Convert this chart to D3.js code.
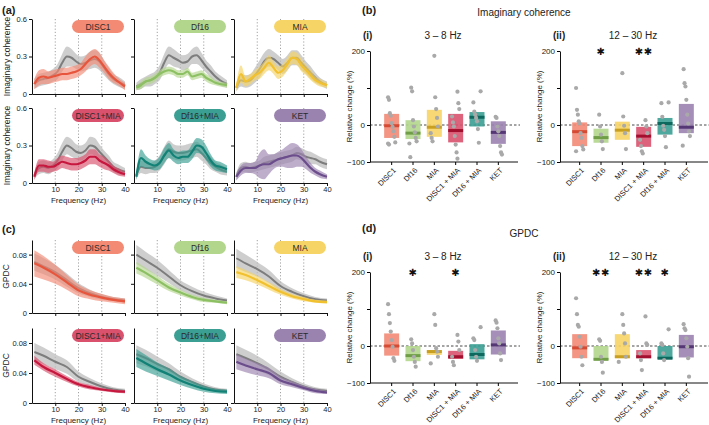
<!DOCTYPE html>
<html><head><meta charset="utf-8">
<script src="https://cdn.jsdelivr.net/npm/d3@7"></script>
<style>body{margin:0;background:#fff} svg{font-family:"Liberation Sans",Arial,sans-serif}</style>
</head><body><svg id="c" width="709" height="425"></svg>
<script>
// ---------- DATA ----------
const groups = ["DISC1","Df16","MIA","DISC1+MIA","Df16+MIA","KET"];
const catLabels = ["DISC1","Df16","MIA","DISC1 + MIA","Df16 + MIA","KET"];
const freqTicks = [10,20,30,40];

const cohFreq = [1,3,5,7,9,11,13,15,17,19,21,23,25,27,29,31,33,35,37,40];
const cohCtrlMean = [
 [0.08,0.11,0.12,0.13,0.15,0.18,0.25,0.30,0.29,0.26,0.24,0.25,0.27,0.28,0.26,0.21,0.16,0.12,0.10,0.07],
 [0.06,0.08,0.10,0.11,0.13,0.17,0.25,0.31,0.29,0.27,0.25,0.26,0.30,0.31,0.27,0.22,0.18,0.14,0.11,0.08],
 [0.05,0.11,0.10,0.11,0.15,0.20,0.26,0.29,0.28,0.25,0.22,0.25,0.29,0.29,0.25,0.21,0.17,0.13,0.10,0.07],
 [0.06,0.12,0.13,0.12,0.14,0.18,0.25,0.30,0.28,0.25,0.24,0.26,0.30,0.29,0.25,0.21,0.17,0.13,0.11,0.09],
 [0.06,0.13,0.12,0.12,0.13,0.16,0.22,0.27,0.25,0.24,0.24,0.25,0.26,0.27,0.24,0.20,0.16,0.13,0.11,0.09],
 [0.05,0.12,0.13,0.12,0.13,0.14,0.16,0.17,0.18,0.19,0.20,0.21,0.22,0.24,0.23,0.21,0.20,0.19,0.17,0.15]];
const cohCtrlSem = [
 [0.04,0.05,0.05,0.05,0.05,0.06,0.07,0.08,0.07,0.06,0.06,0.06,0.07,0.07,0.07,0.06,0.05,0.04,0.04,0.03],
 [0.03,0.04,0.04,0.05,0.05,0.06,0.07,0.07,0.07,0.06,0.06,0.06,0.06,0.07,0.06,0.05,0.05,0.04,0.04,0.03],
 [0.03,0.05,0.05,0.05,0.06,0.07,0.07,0.07,0.06,0.06,0.06,0.06,0.06,0.06,0.06,0.05,0.05,0.04,0.03,0.03],
 [0.03,0.05,0.05,0.05,0.05,0.06,0.07,0.07,0.07,0.06,0.06,0.06,0.07,0.07,0.06,0.05,0.05,0.04,0.04,0.03],
 [0.03,0.05,0.05,0.04,0.05,0.06,0.07,0.07,0.06,0.06,0.06,0.06,0.06,0.06,0.06,0.05,0.05,0.04,0.04,0.03],
 [0.03,0.04,0.04,0.04,0.04,0.04,0.05,0.05,0.05,0.05,0.05,0.05,0.05,0.05,0.05,0.05,0.05,0.04,0.04,0.04]];
const cohGrpMean = [
 [0.08,0.13,0.14,0.13,0.14,0.15,0.16,0.16,0.17,0.18,0.20,0.24,0.28,0.30,0.27,0.22,0.17,0.13,0.10,0.06],
 [0.05,0.07,0.10,0.11,0.13,0.16,0.18,0.19,0.18,0.16,0.16,0.18,0.14,0.15,0.16,0.13,0.11,0.09,0.08,0.07],
 [0.05,0.16,0.10,0.12,0.15,0.17,0.21,0.25,0.21,0.17,0.19,0.24,0.29,0.28,0.23,0.19,0.15,0.11,0.09,0.07],
 [0.05,0.14,0.14,0.13,0.13,0.15,0.17,0.16,0.15,0.15,0.16,0.18,0.21,0.21,0.18,0.16,0.14,0.11,0.09,0.07],
 [0.05,0.20,0.17,0.15,0.14,0.16,0.22,0.26,0.22,0.20,0.21,0.21,0.25,0.30,0.29,0.24,0.18,0.14,0.13,0.11],
 [0.05,0.10,0.12,0.12,0.12,0.14,0.15,0.15,0.17,0.19,0.20,0.21,0.22,0.22,0.20,0.16,0.12,0.09,0.07,0.05]];
const cohGrpSem = [
 [0.04,0.06,0.06,0.05,0.05,0.05,0.05,0.05,0.05,0.05,0.05,0.06,0.06,0.06,0.06,0.05,0.05,0.04,0.03,0.03],
 [0.02,0.03,0.03,0.03,0.03,0.03,0.03,0.03,0.03,0.03,0.03,0.03,0.03,0.03,0.03,0.03,0.03,0.02,0.02,0.02],
 [0.03,0.07,0.04,0.04,0.04,0.05,0.05,0.06,0.05,0.05,0.05,0.05,0.05,0.05,0.05,0.04,0.04,0.03,0.03,0.02],
 [0.03,0.05,0.05,0.05,0.04,0.05,0.05,0.05,0.05,0.05,0.05,0.05,0.06,0.06,0.05,0.05,0.04,0.03,0.03,0.02],
 [0.03,0.07,0.05,0.04,0.04,0.05,0.06,0.06,0.05,0.05,0.05,0.05,0.06,0.06,0.06,0.06,0.05,0.04,0.04,0.03],
 [0.03,0.04,0.04,0.04,0.05,0.10,0.12,0.08,0.06,0.06,0.07,0.09,0.10,0.09,0.07,0.05,0.04,0.03,0.03,0.02]];

const gpdcFreq = [1,5,10,15,20,25,30,35,40];
const gpdcCtrlMean = [
 [0.070,0.064,0.056,0.045,0.034,0.027,0.022,0.019,0.017],
 [0.080,0.072,0.062,0.050,0.038,0.030,0.024,0.020,0.017],
 [0.075,0.068,0.060,0.050,0.037,0.029,0.023,0.019,0.017],
 [0.068,0.063,0.055,0.048,0.035,0.028,0.022,0.018,0.016],
 [0.065,0.060,0.052,0.045,0.035,0.028,0.022,0.018,0.016],
 [0.065,0.060,0.053,0.045,0.035,0.028,0.022,0.018,0.016]];
const gpdcCtrlSem = [
 [0.012,0.011,0.010,0.009,0.007,0.005,0.004,0.003,0.003],
 [0.013,0.012,0.011,0.009,0.007,0.006,0.005,0.004,0.003],
 [0.013,0.012,0.010,0.009,0.007,0.005,0.004,0.003,0.003],
 [0.012,0.011,0.010,0.009,0.007,0.005,0.004,0.003,0.003],
 [0.012,0.011,0.010,0.008,0.007,0.005,0.004,0.003,0.003],
 [0.012,0.011,0.010,0.008,0.007,0.005,0.004,0.003,0.003]];
const gpdcGrpMean = [
 [0.068,0.062,0.053,0.042,0.031,0.025,0.021,0.018,0.016],
 [0.062,0.055,0.045,0.035,0.028,0.022,0.018,0.016,0.014],
 [0.056,0.052,0.045,0.037,0.029,0.023,0.019,0.016,0.015],
 [0.057,0.048,0.040,0.032,0.025,0.021,0.018,0.016,0.015],
 [0.060,0.053,0.045,0.038,0.030,0.024,0.019,0.016,0.015],
 [0.055,0.050,0.045,0.040,0.030,0.025,0.020,0.016,0.014]];
const gpdcGrpSem = [
 [0.018,0.016,0.013,0.010,0.008,0.006,0.005,0.004,0.004],
 [0.008,0.007,0.006,0.005,0.004,0.003,0.003,0.002,0.002],
 [0.008,0.007,0.006,0.005,0.004,0.003,0.003,0.002,0.002],
 [0.006,0.005,0.005,0.004,0.003,0.003,0.002,0.002,0.002],
 [0.012,0.011,0.009,0.008,0.006,0.005,0.004,0.003,0.003],
 [0.010,0.009,0.008,0.007,0.005,0.004,0.003,0.003,0.002]];

// Relative change (%) per group
const icLowMean = [-2,-22,-6,-15,21,-20];
const icLowBoxTop = [30,13,41,30,35,10];
const icLowBoxBot = [-35,-38,-32,-47,-4,-51];
const icLowPoints = [[75,68,32,25,5,-5,-17,-32,-47,-50,-53],[101,91,13,-4,-20,-35,-44,-50,-87],[187,75,43,19,-4,-22,-35,-44],[90,59,43,23,7,-4,-30,-53,-74,-91],[91,61,36,28,19,10,-11,-48],[22,19,-4,-17,-30,-57,-74,-80]];
const icLowStars = ["","","","","",""];

const icHighMean = [-18,-34,-14,-30,4,-6];
const icHighBoxTop = [7,-10,9,-5,19,57];
const icHighBoxBot = [-57,-48,-40,-59,-26,-22];
const icHighPoints = [[100,41,28,10,4,-22,-35,-57,-66,-71],[28,-4,-26,-44,-65],[140,23,-2,-22,-65],[13,-4,-22,-40,-57,-71,-77],[61,59,22,-2,-13,-30,-60],[151,113,104,68,28,4,-17,-30,-56]];
const icHighStars = ["","*","","**","",""];

const gpLowMean = [0,-26,-15,-29,-23,3];
const gpLowBoxTop = [34,0,-11,-13,5,42];
const gpLowBoxBot = [-26,-41,-24,-35,-36,-23];
const gpLowPoints = [[113,86,62,39,16,-2,-33,-40],[18,7,-11,-29,-43,-56],[86,57,-6,-15,-29,-47],[30,12,-11,-29,-43,-52],[51,21,16,-11,-29,-40],[69,63,48,21,7,-20,-38]];
const gpLowStars = ["","*","","*","",""];

const gpHighMean = [-5,-36,-29,-29,-33,-2];
const gpHighBoxTop = [32,0,32,-11,0,30];
const gpHighBoxBot = [-33,-38,-33,-33,-35,-31];
const gpHighPoints = [[129,86,57,52,25,-2,-29,-52],[18,14,-29,-43,-72],[86,57,34,7,-29,-43],[80,7,3,-20,-38,-65],[45,7,3,-20,-38],[59,48,43,21,-2,-33,-83]];
const gpHighStars = ["","**","","**","*",""];

// ---------- STYLE ----------
const lineColor = ["#e8553d","#8cc063","#f2c12f","#c7173e","#128277","#6b4d8c"];
const fillColor = ["#f28a74","#b3d68d","#f6d466","#d9516d","#3b9f94","#9b83b0"];
const medColor  = ["#d64a33","#6f9e46","#c99f22","#a3102f","#0d685e","#553775"];

const svg = d3.select("#c");
const colX = [32,134,234], plotW = 93;

function txt(x,y,s,opt={}){
  const t = svg.append("text").attr("x",x).attr("y",y).text(s)
    .attr("font-size",opt.size||8).attr("fill",opt.fill||"#222")
    .attr("text-anchor",opt.anchor||"start");
  if(opt.bold) t.attr("font-weight","bold");
  if(opt.rot) t.attr("transform",`rotate(${opt.rot},${x},${y})`);
  return t;
}

function linePanel(gi, x0, yTop, yBot, freq, cM, cS, gM, gS, yDom, yTicks, yFmt, showY, showX){
  const x = d3.scaleLinear().domain([0,40]).range([x0,x0+plotW]);
  const y = d3.scaleLinear().domain(yDom).range([yBot,yTop]);
  const g = svg.append("g");
  [10,20,30].forEach(f=>g.append("line").attr("x1",x(f)).attr("x2",x(f)).attr("y1",yTop).attr("y2",yBot)
     .attr("stroke","#8a8a8a").attr("stroke-width",0.8).attr("stroke-dasharray","1.2,2"));
  const idx = d3.range(freq.length);
  const area = (m,s)=>d3.area().x(i=>x(freq[i])).y0(i=>y(Math.max(0,m[i]-s[i]))).y1(i=>y(m[i]+s[i])).curve(d3.curveMonotoneX);
  const line = m=>d3.line().x(i=>x(freq[i])).y(i=>y(m[i])).curve(d3.curveMonotoneX);
  g.append("path").attr("d",area(cM,cS)(idx)).attr("fill","#bdbdbd").attr("opacity",0.75);
  g.append("path").attr("d",line(cM)(idx)).attr("fill","none").attr("stroke","#7d7d7d").attr("stroke-width",2);
  g.append("path").attr("d",area(gM,gS)(idx)).attr("fill",fillColor[gi]).attr("opacity",0.65);
  g.append("path").attr("d",line(gM)(idx)).attr("fill","none").attr("stroke",lineColor[gi]).attr("stroke-width",2.2);
  const ay = d3.axisLeft(y).tickValues(yTicks).tickSize(3).tickSizeOuter(0).tickPadding(2)
     .tickFormat(showY? yFmt : "");
  const gy = g.append("g").attr("transform",`translate(${x0},0)`).call(ay);
  const ax = d3.axisBottom(x).tickValues(freqTicks).tickSize(3).tickSizeOuter(0).tickPadding(1)
     .tickFormat(showX? d3.format("d") : "");
  const gx = g.append("g").attr("transform",`translate(0,${yBot})`).call(ax);
  [gy,gx].forEach(a=>{a.selectAll("text").attr("font-size",7.5).attr("fill","#222").attr("font-family","Liberation Sans, Arial, sans-serif");
    a.select(".domain").attr("stroke","#111").attr("stroke-width",1);
    a.selectAll(".tick line").attr("stroke","#111");});
  const pw=52, ph=13, px=x0+plotW-pw-1, py=yTop+1;
  g.append("rect").attr("x",px).attr("y",py).attr("width",pw).attr("height",ph).attr("rx",ph/2)
    .attr("fill",fillColor[gi]);
  g.append("text").attr("x",px+pw/2).attr("y",py+ph/2+3).attr("text-anchor","middle")
    .attr("font-size",8.5).attr("fill","#2a2a2a").text(groups[gi]);
}

const aRows=[[19,94],[108,183]], cRows=[[240,313],[328,403]];
for(let gi=0;gi<6;gi++){
  const r=Math.floor(gi/3), c=gi%3;
  linePanel(gi,colX[c],aRows[r][0],aRows[r][1],cohFreq,cohCtrlMean[gi],cohCtrlSem[gi],cohGrpMean[gi],cohGrpSem[gi],
    [0,0.6],[0,0.3,0.6],d=>d===0?"0":d3.format(".1f")(d),c===0,r===1);
  linePanel(gi,colX[c],cRows[r][0],cRows[r][1],gpdcFreq,gpdcCtrlMean[gi],gpdcCtrlSem[gi],gpdcGrpMean[gi],gpdcGrpSem[gi],
    [0,0.1],[0,0.04,0.08],d=>d===0?"0":d3.format(".2f")(d),c===0,r===1);
}
txt(2,14,"(a)",{size:11,bold:true});
txt(2,233,"(c)",{size:11,bold:true});
aRows.forEach(r=>txt(10,(r[0]+r[1])/2,"Imaginary coherence",{size:8.5,anchor:"middle",rot:-90}));
cRows.forEach(r=>txt(9,(r[0]+r[1])/2,"GPDC",{size:8.5,anchor:"middle",rot:-90}));
colX.forEach(x0=>{txt(x0+plotW/2,203,"Frequency (Hz)",{size:8,anchor:"middle"});
                 txt(x0+plotW/2,423,"Frequency (Hz)",{size:8,anchor:"middle"});});

// ---------- BOX PANELS ----------
function boxPanel(axisX, right, bandR, y200, yM100, mean, top, bot, pts, stars, title, roman){
  const y = d3.scaleLinear().domain([-100,200]).range([yM100,y200]);
  const x = d3.scaleBand().domain(catLabels).range(bandR);
  const g = svg.append("g");
  const bw = 15;
  g.append("line").attr("x1",axisX).attr("x2",right+2).attr("y1",y(0)).attr("y2",y(0))
    .attr("stroke","#333").attr("stroke-width",0.9).attr("stroke-dasharray","2.5,2");
  catLabels.forEach((c,i)=>{
    const cx = x(c)+x.bandwidth()/2;
    g.append("rect").attr("x",cx-bw/2).attr("width",bw).attr("y",y(top[i])).attr("height",y(bot[i])-y(top[i]))
      .attr("fill",fillColor[i]).attr("opacity",0.9);
    g.append("line").attr("x1",cx-bw/2).attr("x2",cx+bw/2).attr("y1",y(mean[i])).attr("y2",y(mean[i]))
      .attr("stroke",medColor[i]).attr("stroke-width",3);
    pts[i].forEach((v,k)=>{
      const jit = ((k*37+i*11)%9-4)*0.9;
      g.append("circle").attr("cx",cx+jit).attr("cy",y(v)).attr("r",2.1).attr("fill","#a9a9a9");
    });
    if(stars[i]) g.append("text").attr("x",cx).attr("y",y(200)+4).attr("text-anchor","middle")
      .attr("font-size",10).attr("font-family","DejaVu Sans").attr("fill","#111")
      .attr("letter-spacing",0.5).text(stars[i].replace(/\*/g,"✱"));
  });
  const ay = d3.axisLeft(y).tickValues([-100,0,100,200]).tickSize(3).tickSizeOuter(0).tickPadding(2)
    .tickFormat(d=>d===100?"":(d<0?"−"+(-d):d));
  const gy = g.append("g").attr("transform",`translate(${axisX},0)`).call(ay);
  gy.selectAll("text").attr("font-size",8).attr("fill","#222").attr("font-family","Liberation Sans, Arial, sans-serif");
  gy.select(".domain").attr("stroke","#111").attr("stroke-width",1);
  const ax = d3.axisBottom(x).tickSize(3).tickSizeOuter(0).tickFormat("");
  const gx = g.append("g").attr("transform",`translate(0,${yM100})`).call(ax);
  gx.select(".domain").attr("d",`M${axisX},0H${right}`).attr("stroke","#111").attr("stroke-width",1);
  catLabels.forEach(c=>{
    const cx = x(c)+x.bandwidth()/2, ty=yM100+7;
    svg.append("text").attr("transform",`translate(${cx+3},${ty}) rotate(-45)`).attr("text-anchor","end")
      .attr("font-size",7.5).attr("fill","#222").attr("dy","0.35em").text(c);
  });
  const my = (y200+yM100)/2;
  txt(axisX-18,my,"Relative change (%)",{size:8,anchor:"middle",rot:-90});
  txt((axisX+right)/2-1,y200-12,title,{size:10,anchor:"middle"});
  txt(axisX-7,y200-12,roman,{size:10,bold:true});
}
txt(362,14,"(b)",{size:11,bold:true});
txt(524,16,"Imaginary coherence",{size:10,anchor:"middle"});
boxPanel(370,518,[381,509],51,162,icLowMean,icLowBoxTop,icLowBoxBot,icLowPoints,icLowStars,"3 – 8 Hz","(i)");
boxPanel(560,708,[569,697],51,162,icHighMean,icHighBoxTop,icHighBoxBot,icHighPoints,icHighStars,"12 – 30 Hz","(ii)");
txt(362,232,"(d)",{size:11,bold:true});
txt(524,237,"GPDC",{size:10,anchor:"middle"});
boxPanel(370,518,[381,509],272,383,gpLowMean,gpLowBoxTop,gpLowBoxBot,gpLowPoints,gpLowStars,"3 – 8 Hz","(i)");
boxPanel(560,708,[569,697],272,383,gpHighMean,gpHighBoxTop,gpHighBoxBot,gpHighPoints,gpHighStars,"12 – 30 Hz","(ii)");
</script></body></html>
